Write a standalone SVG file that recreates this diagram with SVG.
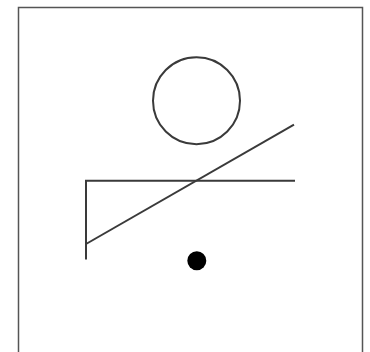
<svg xmlns="http://www.w3.org/2000/svg" width="370" height="352" viewBox="0 0 370 352">
<style>
.ln{fill:none;stroke:#3a3a3a;stroke-width:2;stroke-linecap:butt}
.fr{fill:none;stroke:#555;stroke-width:1.5}
</style>
<rect width="370" height="352" fill="#fff"/>
<path class="fr" d="M18.5,352 V7.5 H362.5 V352"/>
<g id="circle"><circle class="ln" cx="196.5" cy="100.8" r="43.5"/></g>
<g id="dot"><circle cx="196.8" cy="260.7" r="9.5" fill="#000"/></g>
<g id="connectors">
<path class="ln" d="M86,259.5 V180.7 H295"/>
<path class="ln" d="M86,244 L294,124.7"/>
</g>
</svg>
